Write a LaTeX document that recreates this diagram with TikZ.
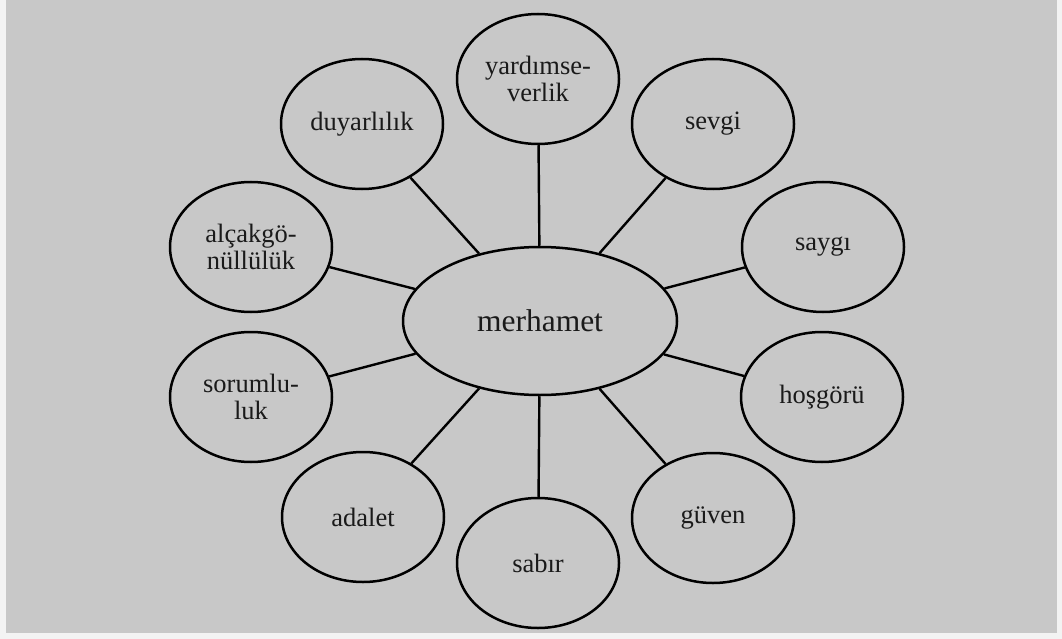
\documentclass[tikz,border=0pt]{standalone}
\usepackage{fontspec}
\setmainfont{Liberation Serif}
\usetikzlibrary{shapes.geometric}
\definecolor{outerbg}{HTML}{F3F3F3}
\definecolor{panel}{HTML}{C8C8C8}
\definecolor{ink}{HTML}{1A1A1A}
\begin{document}
\begin{tikzpicture}[x=1pt,y=-1pt,
  bubble/.style={draw=black, line width=2.5pt, ellipse, minimum width=162pt, minimum height=130pt, inner sep=0pt, align=center, font=\fontsize{26.5}{26.5}\selectfont, text=ink},
  hub/.style={bubble, minimum width=274pt, minimum height=148pt, font=\fontsize{31.5}{36}\selectfont},
  link/.style={draw=black, line width=2.4pt}]
\fill[outerbg] (0,0) rectangle (1062,639);
\fill[panel] (6,0) rectangle (1057,633);
\useasboundingbox (0,0) rectangle (1062,639);
\node[hub] (m) at (540,321) {merhamet};
\node[bubble] (yard) at (538,79) {yardımse-\\verlik};
\node[bubble] (sevgi) at (713,124) {sevgi};
\node[bubble] (saygi) at (823,247) {saygı};
\node[bubble] (hosgoru) at (822,397) {hoşgörü};
\node[bubble] (guven) at (713,518) {güven};
\node[bubble] (sabir) at (538,563) {sabır};
\node[bubble] (adalet) at (363,517) {adalet};
\node[bubble] (sorum) at (251,397) {sorumlu-\\luk};
\node[bubble] (alcak) at (251,247) {alçakgö-\\nüllülük};
\node[bubble] (duyar) at (362,124) {duyarlılık};
\foreach \n in {yard,sevgi,saygi,hosgoru,guven,sabir,adalet,sorum,alcak,duyar}
  \draw[link] (m) -- (\n);
\end{tikzpicture}
\end{document}
